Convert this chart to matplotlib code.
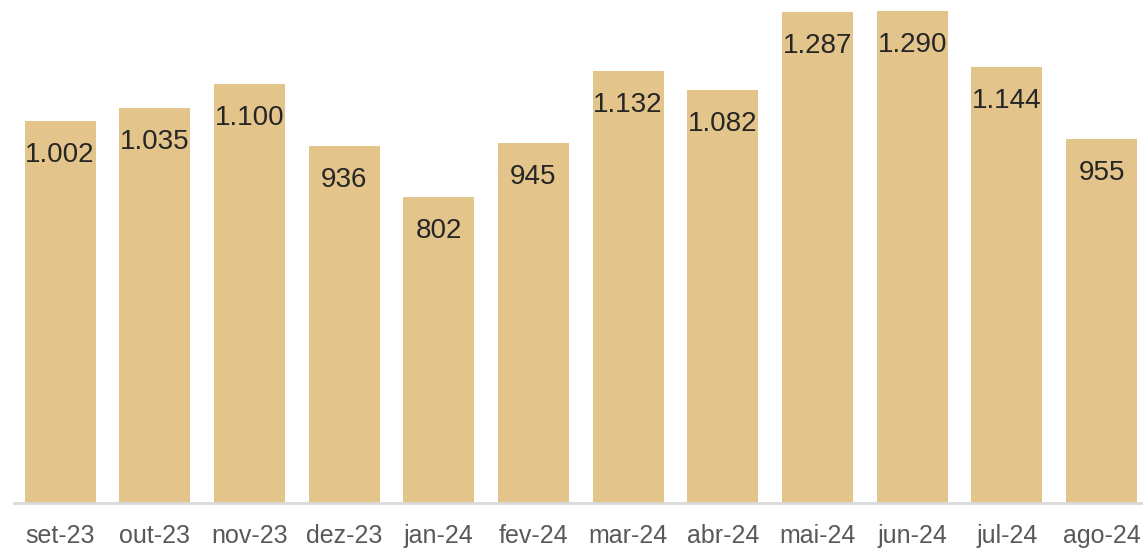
import matplotlib.pyplot as plt

months = ["set-23", "out-23", "nov-23", "dez-23", "jan-24", "fev-24",
          "mar-24", "abr-24", "mai-24", "jun-24", "jul-24", "ago-24"]
values = [1002, 1035, 1100, 936, 802, 945, 1132, 1082, 1287, 1290, 1144, 955]

plt.rcParams['font.family'] = ['Liberation Sans', 'DejaVu Sans']

fig = plt.figure(figsize=(11.43, 5.51), dpi=100)
ax = fig.add_axes([14 / 1143, 48 / 551, 1 - 14 / 1143, 503 / 551])

x = list(range(len(months)))
bars = ax.bar(x, values, width=0.75, color="#E3C48A", zorder=2)

for xi, v in zip(x, values):
    label = f"{v:,}".replace(",", ".")
    ax.annotate(label, (xi, v), xytext=(0, -24.5), textcoords="offset points",
                ha="center", va="center", fontsize=20, color="#262626")

ax.set_xlim(-0.486, 11.438)
ax.set_ylim(0, 1319)
ax.set_xticks(x)
ax.set_xticklabels(months, fontsize=18, color="#595959")
ax.tick_params(axis="x", length=0, pad=15)
ax.set_yticks([])
for s in ["top", "right", "left"]:
    ax.spines[s].set_visible(False)
ax.spines["bottom"].set_color("#D9D9D9")
ax.spines["bottom"].set_linewidth(2)

fig.savefig("out.png", dpi=100)
